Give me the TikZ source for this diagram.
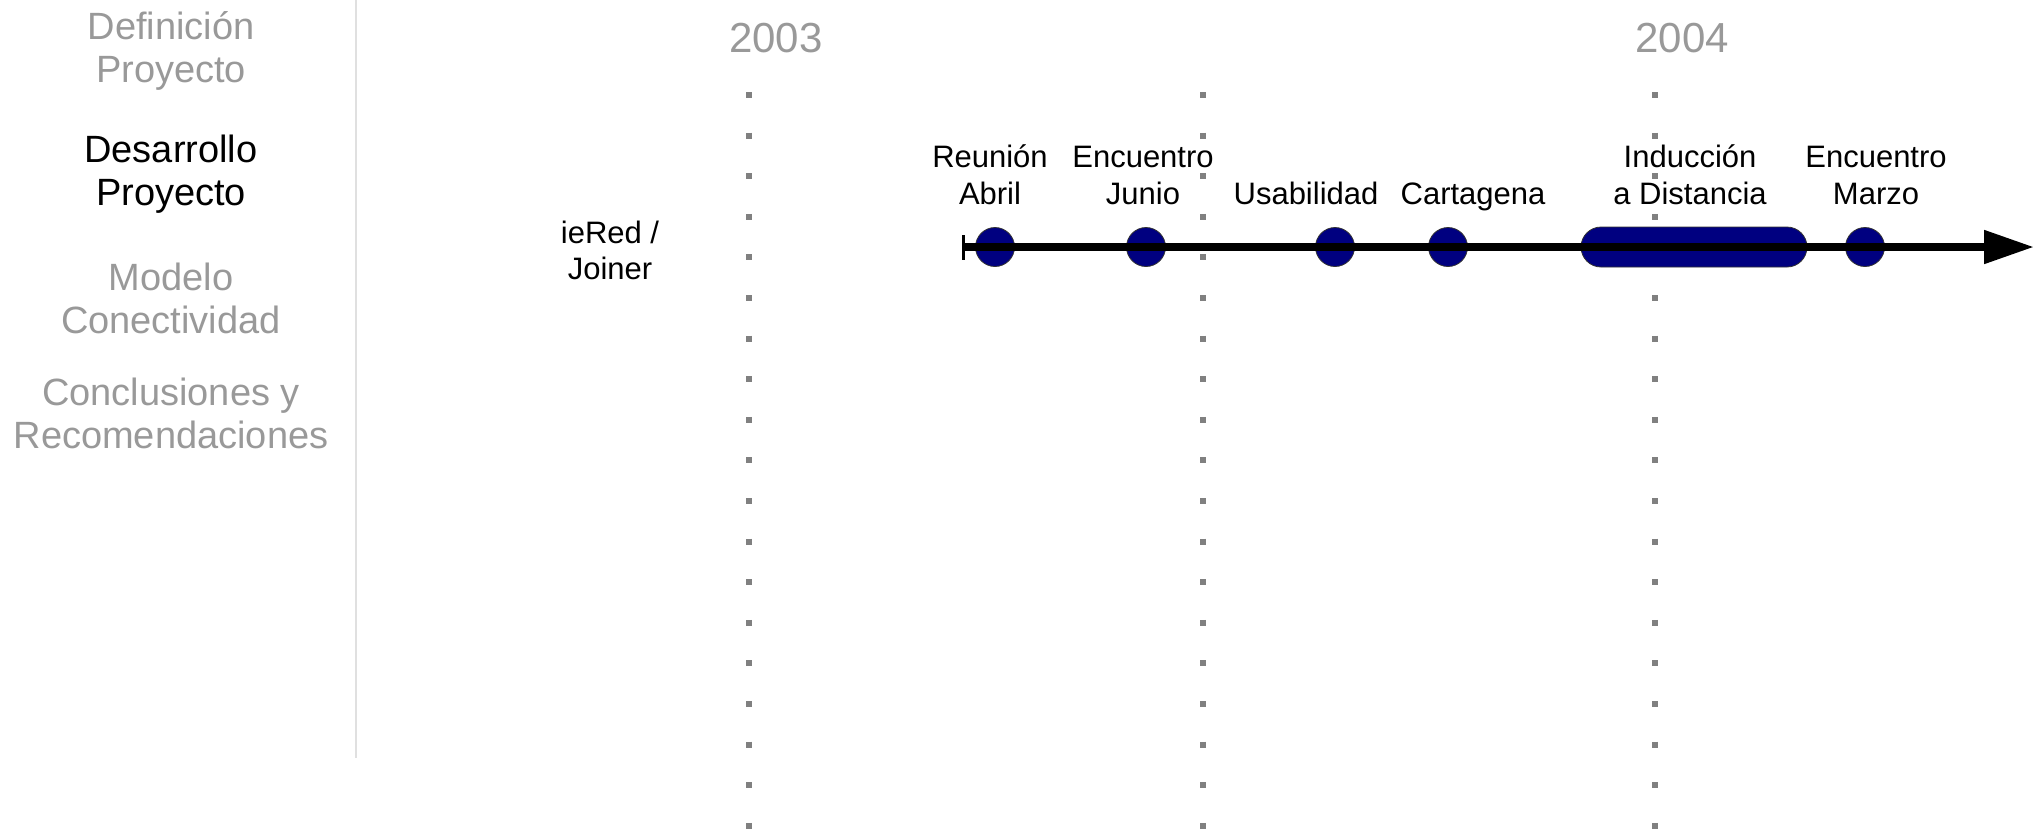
\documentclass[tikz,border=0pt]{standalone}
\usepackage{fontspec}
\setmainfont{Liberation Sans}
\usetikzlibrary{arrows.meta, shapes.misc, positioning}
\definecolor{menu_gray}{HTML}{999999}
\definecolor{dot_gray}{HTML}{808080}
\definecolor{rule_gray}{HTML}{E0E0E0}
\definecolor{event_blue}{HTML}{000080}

\begin{document}
\begin{tikzpicture}[x=0.5pt, y=-0.5pt,
    menu/.style={align=center, anchor=base, inner sep=0pt, text=menu_gray,
        font=\fontsize{19pt}{21.5pt}\selectfont},
    year/.style={anchor=base, inner sep=0pt, text=menu_gray,
        font=\fontsize{21pt}{25pt}\selectfont},
    lbl/.style={align=center, anchor=base, inner sep=0pt,
        font=\fontsize{15.5pt}{18.5pt}\selectfont},
    event/.style={circle, fill=event_blue, draw=black!80, line width=0.4pt,
        minimum size=19.5pt, inner sep=0pt},
    yeargrid/.style={dot_gray, line width=3pt, dash pattern=on 3pt off 17.3pt},
    timeline/.style={line width=4pt,
        {Bar[width=12.5pt, line width=1.5pt]}-{Triangle[length=25pt, width=16pt]}}]
                \useasboundingbox (0,0) rectangle (2043,832);
                % menu on the left
                \node[menu] (defin) at (171,82) {Definición\\Proyecto};
                \node[menu, text=black] (desar) at (171,205) {Desarrollo\\Proyecto};
                \node[menu] (model) at (171,333) {Modelo\\Conectividad};
                \node[menu] (concl) at (171,448) {Conclusiones y\\Recomendaciones};
                \draw[rule_gray, line width=1pt] (356,0) -- (356,758);

                % years
                \node[year] (y2003) at (776,52) {2003};
                \node[year] (y2004) at (1682,52) {2004};
                \draw[yeargrid] (749,92) -- (749,832);
                \draw[yeargrid] (1203,92) -- (1203,832);
                \draw[yeargrid] (1655,92) -- (1655,832);

                \node[lbl, font=\fontsize{15.5pt}{18pt}\selectfont] (iered) at (610,279) {ieRed /\\Joiner};

                % events
                \node[event] (abril) at (995,247) {};
                \node[event] (junio) at (1146,247) {};
                \node[event] (usab) at (1335,247) {};
                \node[event] (carta) at (1448,247) {};
                \node[event, rounded rectangle, minimum width=113pt, minimum height=20pt] (induc) at (1694,247) {};
                \node[event] (marzo) at (1865,247) {};

                \coordinate (tstart) at (962,247);
                \coordinate (tend) at (2034,247);
                \draw[timeline] (tstart) -- (tend);

                \node[lbl] (labril) at (990,204) {Reunión\\Abril};
                \node[lbl] (ljunio) at (1143,204) {Encuentro\\Junio};
                \node[lbl] (lusab) at (1306,204) {Usabilidad};
                \node[lbl] (lcarta) at (1473,204) {Cartagena};
                \node[lbl] (linduc) at (1690,204) {Inducción\\a Distancia};
                \node[lbl] (lmarzo) at (1876,204) {Encuentro\\Marzo};

            \end{tikzpicture}
\end{document}
